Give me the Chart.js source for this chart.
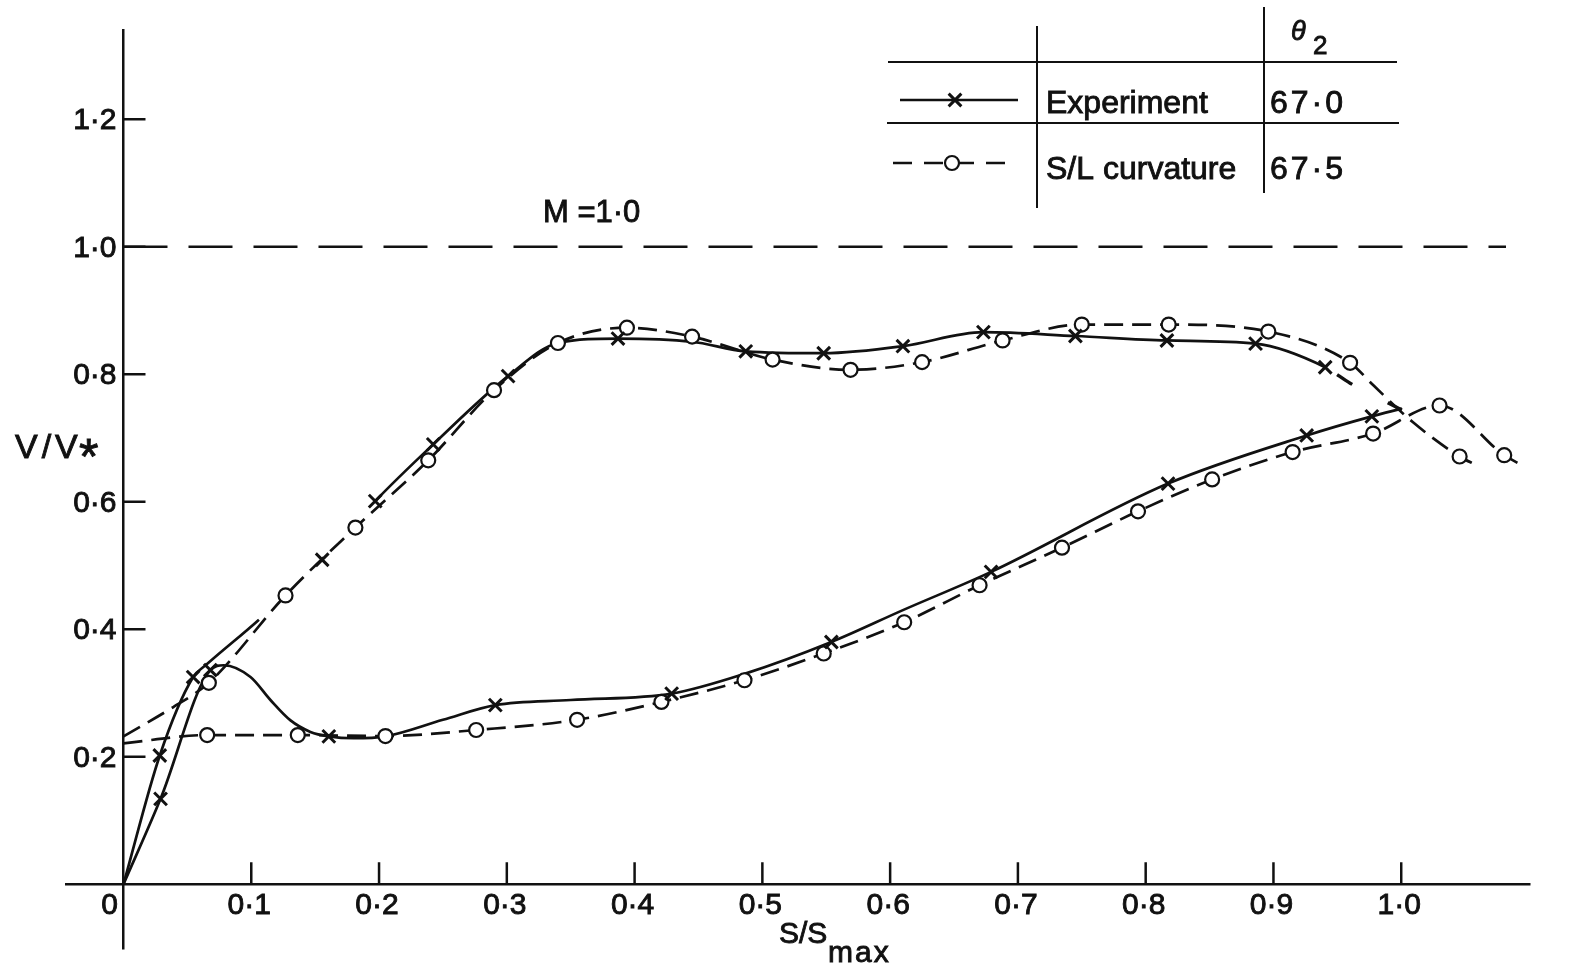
<!doctype html>
<html>
<head>
    <meta charset="UTF-8"/>
    <title>V/V* against S/Smax</title>
    <script src="https://cdn.jsdelivr.net/npm/chart.js@4.4.1/dist/chart.umd.min.js"></script>
</head>
<body style="margin: 0; background: #fff;">
<div style="width: 1578px; height: 970px; position: relative;">
    <canvas id="myChart"></canvas>
</div>

<script>
    // values: [S/Smax, V/V*]
    var expUpper = [[0, 0], [0.0284, 0.202], [0.0545, 0.325], [0.064, 0.343], [0.106, 0.415], [0.1555, 0.509],
        [0.197, 0.601], [0.2424, 0.690], [0.301, 0.797], [0.34, 0.849], [0.387, 0.856], [0.445, 0.851],
        [0.487, 0.836], [0.548, 0.833], [0.610, 0.844], [0.673, 0.866], [0.745, 0.860], [0.8166, 0.853],
        [0.886, 0.848], [0.9405, 0.811], [0.96, 0.786], [1.0005, 0.744]];
    var expUpperMarks = [[0.0284, 0.202], [0.0545, 0.325], [0.1555, 0.509], [0.197, 0.601], [0.2424, 0.690],
        [0.301, 0.797], [0.387, 0.856], [0.487, 0.836], [0.548, 0.833], [0.610, 0.844], [0.673, 0.866],
        [0.745, 0.860], [0.8166, 0.853], [0.886, 0.848], [0.9405, 0.811]];

    var expLower = [[0, 0], [0.029, 0.134], [0.068, 0.336], [0.0785, 0.3435], [0.0994, 0.325], [0.115, 0.289],
        [0.1307, 0.257], [0.1463, 0.239], [0.1607, 0.232], [0.18, 0.229], [0.205, 0.232], [0.25, 0.258],
        [0.291, 0.281], [0.35, 0.289], [0.429, 0.299], [0.486, 0.33], [0.554, 0.380], [0.61, 0.43],
        [0.679, 0.49], [0.8175, 0.6285], [0.926, 0.704], [0.977, 0.734], [1.0005, 0.746]];
    var expLowerMarks = [[0.029, 0.134], [0.068, 0.336], [0.1607, 0.232], [0.291, 0.281], [0.429, 0.299],
        [0.554, 0.380], [0.679, 0.49], [0.8175, 0.6285], [0.926, 0.704], [0.977, 0.734]];

    var slUpper = [[0, 0.232], [0.039, 0.278], [0.0668, 0.316], [0.1268, 0.453], [0.1815, 0.5595], [0.2385, 0.665],
        [0.290, 0.775], [0.340, 0.849], [0.394, 0.873], [0.445, 0.859], [0.508, 0.823], [0.569, 0.807],
        [0.625, 0.819], [0.688, 0.853], [0.750, 0.878], [0.818, 0.878], [0.896, 0.867], [0.960, 0.818],
        [0.978, 0.783], [1.009, 0.725], [1.0457, 0.671], [1.0592, 0.657]];
    var slUpperMarks = [[0.0668, 0.316], [0.1268, 0.453], [0.1815, 0.5595], [0.2385, 0.665], [0.290, 0.775],
        [0.340, 0.849], [0.394, 0.873], [0.445, 0.859], [0.508, 0.823], [0.569, 0.807], [0.625, 0.819],
        [0.688, 0.853], [0.750, 0.878], [0.818, 0.878], [0.896, 0.867], [0.960, 0.818], [1.0457, 0.671]];

    var slLower = [[0, 0.221], [0.0655, 0.234], [0.1364, 0.234], [0.205, 0.2325], [0.276, 0.242], [0.355, 0.258],
        [0.421, 0.286], [0.486, 0.320], [0.548, 0.362], [0.611, 0.411], [0.670, 0.469], [0.7345, 0.528],
        [0.794, 0.585], [0.852, 0.635], [0.915, 0.678], [0.978, 0.707], [1.03, 0.751], [1.0806, 0.673],
        [1.0957, 0.656]];
    var slLowerMarks = [[0.0655, 0.234], [0.1364, 0.234], [0.205, 0.2325], [0.276, 0.242], [0.355, 0.258],
        [0.421, 0.286], [0.486, 0.320], [0.548, 0.362], [0.611, 0.411], [0.670, 0.469], [0.7345, 0.528],
        [0.794, 0.585], [0.852, 0.635], [0.915, 0.678], [0.978, 0.707], [1.03, 0.751], [1.0806, 0.673]];

    var sonicLine = [[0, 1.0], [1.082, 1.0]];

    var xTicks = [0.1, 0.2, 0.3, 0.4, 0.5, 0.6, 0.7, 0.8, 0.9, 1.0];
    var yTicks = [0.2, 0.4, 0.6, 0.8, 1.0, 1.2];
    var tableRows = [['Experiment', '67·0'], ['S/L curvature', '67·5']];

    var ink = '#111';
    var font = '"Liberation Sans", Arial, sans-serif';

    function xy(list) {
        return list.map((p) => ({x: p[0], y: p[1]}));
    }

    function fmt(v) {
        return v.toFixed(1).replace('.', '·');
    }

    function lineSet(data, dash, extra) {
        return Object.assign({
            data: xy(data), showLine: true, borderColor: ink, borderWidth: 2.7, borderDash: dash,
            pointRadius: 0, cubicInterpolationMode: 'monotone', fill: false, order: 4
        }, extra || {});
    }

    function markSet(data, style) {
        var circle = style === 'circle';
        return {
            data: xy(data), showLine: false, pointStyle: style, pointRadius: circle ? 7 : 9,
            pointHoverRadius: circle ? 7 : 9, pointBorderColor: ink, pointBackgroundColor: '#fff',
            pointBorderWidth: circle ? 2.2 : 3, order: circle ? 2 : 1
        };
    }

    // the solid experiment curve is hidden where it runs under the dashed one
    var expUpperSegment = {
        borderColor: (c) => (c.p0.parsed.x >= 0.105 && c.p1.parsed.x <= 0.198) ? 'rgba(0,0,0,0)' : undefined,
        borderDash: (c) => c.p0.parsed.x >= 0.94 ? [18, 40] : undefined,
        borderDashOffset: (c) => c.p0.parsed.x >= 0.94 ? 44 : undefined,
        borderWidth: (c) => c.p0.parsed.x >= 0.94 ? 3.4 : undefined
    };

    function text(ctx, str, x, y, size, opts) {
        opts = opts || {};
        ctx.font = (opts.italic ? 'italic ' : '') + size + 'px ' + font;
        ctx.textAlign = opts.align || 'left';
        ctx.textBaseline = 'alphabetic';
        ctx.letterSpacing = (opts.spacing || 0) + 'px';
        ctx.lineWidth = 0.9;
        ctx.fillText(str, x, y);
        ctx.strokeText(str, x, y);
        ctx.letterSpacing = '0px';
    }

    function seg(ctx, x1, y1, x2, y2) {
        ctx.beginPath();
        ctx.moveTo(x1, y1);
        ctx.lineTo(x2, y2);
        ctx.stroke();
    }

    var decorations = {
        id: 'decorations',
        afterDraw(chart) {
            var ctx = chart.ctx;
            var xs = chart.scales.x, ys = chart.scales.y;
            var x0 = xs.getPixelForValue(0), y0 = ys.getPixelForValue(0);
            ctx.save();
            ctx.strokeStyle = ink;
            ctx.fillStyle = ink;
            ctx.setLineDash([]);

            // inward tick marks and labels
            xTicks.forEach((v) => {
                var px = xs.getPixelForValue(v);
                ctx.lineWidth = 2.5;
                seg(ctx, px, y0, px, y0 - 22);
                text(ctx, fmt(v), px - 2, y0 + 30, 30, {align: 'center'});
            });
            text(ctx, '0', x0 - 14, y0 + 30, 30, {align: 'center'});
            yTicks.forEach((v) => {
                var py = ys.getPixelForValue(v);
                ctx.lineWidth = 2.5;
                seg(ctx, x0, py, x0 + 22, py);
                text(ctx, fmt(v), x0 - 7, py + 10, 30, {align: 'right'});
            });

            // axis titles and the M = 1 note
            text(ctx, 'V/V', 15, 458, 34, {spacing: 4});
            text(ctx, '*', 79, 474, 50);
            text(ctx, 'S/S', 779, 943, 30);
            text(ctx, 'max', 828, 962, 30, {spacing: 2});
            text(ctx, 'M =1·0', 543, 222, 31);

            // key table
            ctx.lineWidth = 2;
            seg(ctx, 888, 62, 1397, 62);
            seg(ctx, 887, 123, 1399, 123);
            seg(ctx, 1037, 26, 1037, 208);
            seg(ctx, 1264, 7, 1264, 193);
            text(ctx, 'θ', 1291, 40, 27, {italic: true});
            text(ctx, '2', 1313, 54, 26);
            text(ctx, tableRows[0][0], 1046, 113, 32);
            text(ctx, tableRows[0][1], 1270, 113, 32, {spacing: 3});
            text(ctx, tableRows[1][0], 1046, 179, 32);
            text(ctx, tableRows[1][1], 1270, 179, 32, {spacing: 3});

            ctx.lineWidth = 2.7;
            seg(ctx, 900, 100, 1018, 100);
            ctx.setLineDash([19, 12]);
            seg(ctx, 893, 163, 1017, 163);
            ctx.setLineDash([]);
            ctx.lineWidth = 3;
            Chart.helpers.drawPoint(ctx, {pointStyle: 'crossRot', radius: 9, borderWidth: 3}, 955, 100);
            ctx.fillStyle = '#fff';
            ctx.lineWidth = 2.2;
            Chart.helpers.drawPoint(ctx, {pointStyle: 'circle', radius: 7, borderWidth: 2.2}, 952, 163);
            ctx.restore();
        }
    };

    var ctx = document.getElementById('myChart').getContext('2d');
    var myChart = new Chart(ctx, {
        type: 'scatter',
        data: {
            datasets: [
                lineSet(sonicLine, [44, 21], {cubicInterpolationMode: 'default', order: 5}),
                lineSet(slUpper, [19, 9]),
                lineSet(slLower, [19, 9]),
                lineSet(expUpper, [], {order: 3, segment: expUpperSegment}),
                lineSet(expLower, [], {order: 3}),
                markSet(slUpperMarks, 'circle'),
                markSet(slLowerMarks, 'circle'),
                markSet(expUpperMarks, 'crossRot'),
                markSet(expLowerMarks, 'crossRot')
            ]
        },
        options: {
            responsive: true,
            maintainAspectRatio: false,
            animation: false,
            layout: {padding: {left: 66, right: 49, top: 30, bottom: 22}},
            plugins: {legend: {display: false}, tooltip: {enabled: false}},
            scales: {
                x: {
                    type: 'linear', min: -0.045, max: 1.1, position: {y: 0},
                    grid: {display: false, lineWidth: 2.5}, ticks: {display: false},
                    border: {display: true, color: ink, width: 2.5}
                },
                y: {
                    type: 'linear', min: -0.1, max: 1.34, position: {x: 0},
                    grid: {display: false, lineWidth: 2.5}, ticks: {display: false},
                    border: {display: true, color: ink, width: 2.5}
                }
            }
        },
        plugins: [decorations]
    });
</script>
</body>
</html>
